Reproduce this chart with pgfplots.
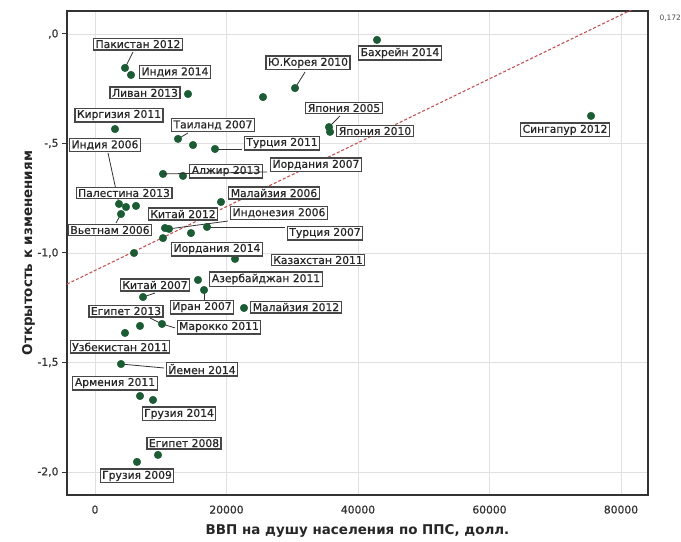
\documentclass[border=0pt]{standalone}
\usepackage{fontspec}
\setmainfont{DejaVu Sans}
\newfontfamily\lblfont[FakeBold=0.6]{DejaVu Sans}
\usepackage{pgfplots}
\pgfplotsset{compat=1.18}
\definecolor{dotgreen}{RGB}{28,92,52}
\definecolor{fitred}{RGB}{196,82,82}
\definecolor{gridgray}{RGB}{224,224,224}
\tikzset{lbl/.style={draw=black!72, fill=white, line width=1.2bp, inner xsep=2bp, inner ysep=1.8bp,
  font=\lblfont\fontsize{10.8}{12}\selectfont, text=black!85},
  ldr/.style={black!80, line width=0.8bp}}
\begin{document}
\begin{tikzpicture}
\path[use as bounding box] (-67bp,-47bp) rectangle (614bp,495bp);
\begin{axis}[
  scale only axis, width=581bp, height=484bp,
  xmin=-4260, xmax=84110, ymin=-2.105, ymax=0.105,
  xtick={0,20000,40000,60000,80000}, xticklabels={0,20000,40000,60000,80000},
  ytick={-2,-1.5,-1,-0.5,0}, yticklabels={{-2,0},{-1,5},{-1,0},{-,5},{,0}},
  scaled ticks=false,
  grid=major, grid style={gridgray, line width=0.8bp},
  axis line style={black!80, line width=1.1bp},
  ytick pos=left, xtick pos=bottom,
  xtick style={draw=none}, ytick style={black!80, line width=1bp},
  tick align=outside, major tick length=5bp,
  tick label style={font=\lblfont\fontsize{10.8}{12}\selectfont, text=black!80},
  xticklabel style={yshift=-2bp},
  xlabel={ВВП на душу населения по ППС, долл.},
  ylabel={Открытость к изменениям},
  every axis x label/.style={at={(axis description cs:0.5,-0.075)}, anchor=center,
     font=\bfseries\fontsize{13.5}{15}\selectfont, text=black!85},
  every axis y label/.style={at={(axis description cs:-0.066,0.5)}, anchor=center, rotate=90,
     font=\bfseries\fontsize{13.5}{15}\selectfont, text=black!85},
  clip mode=individual,
]
% fit line
\addplot[fitred, line width=1.1bp, dash pattern=on 3bp off 2bp] coordinates {(-4260,-1.142) (84110,0.147)};
% leader lines
\draw[ldr] (axis cs:4563,-0.155) -- (axis cs:5780,-0.082);
\draw[ldr] (axis cs:30420,-0.247) -- (axis cs:31941,-0.174);
\draw[ldr] (axis cs:35591,-0.425) -- (axis cs:37265,-0.374);
\draw[ldr] (axis cs:12624,-0.479) -- (axis cs:14145,-0.452);
\draw[ldr] (axis cs:18252,-0.525) -- (axis cs:22359,-0.525);
\draw[ldr] (axis cs:1977,-0.543) -- (axis cs:3650,-0.776);
\draw[ldr] (axis cs:3955,-0.822) -- (axis cs:3194,-0.863);
\draw[ldr] (axis cs:11255,-0.890) -- (axis cs:20229,-0.854);
\draw[ldr] (axis cs:17035,-0.881) -- (axis cs:28899,-0.881);
\draw[ldr] (axis cs:7301,-1.201) -- (axis cs:9126,-1.183);
\draw[ldr] (axis cs:16579,-1.169) -- (axis cs:16579,-1.215);
\draw[ldr] (axis cs:8366,-1.297) -- (axis cs:10191,-1.324);
\draw[ldr] (axis cs:10191,-1.324) -- (axis cs:12168,-1.342);
\draw[ldr] (axis cs:3955,-1.507) -- (axis cs:10495,-1.525);
% points
\addplot[only marks, mark=*, mark size=3.8bp, dotgreen, mark options={draw=dotgreen, fill=dotgreen}] coordinates {
(42892,-0.027) (4563,-0.155) (5476,-0.187) (14145,-0.274) (25553,-0.288)
(30420,-0.247) (35591,-0.425) (35744,-0.447) (75443,-0.374) (3042,-0.434)
(12624,-0.479) (14906,-0.507) (18252,-0.525) (10343,-0.639) (13385,-0.648)
(19165,-0.767) (3650,-0.776) (4715,-0.790) (6236,-0.785) (3955,-0.822)
(10647,-0.886) (11255,-0.890) (14602,-0.909) (17035,-0.881) (10343,-0.932)
(5932,-1.000) (21294,-1.027) (15666,-1.123) (16579,-1.169) (7301,-1.201)
(22663,-1.251) (6845,-1.333) (10191,-1.324) (4563,-1.365) (3955,-1.507)
(6845,-1.653) (8822,-1.671) (9582,-1.922) (6388,-1.954)
};
% labels
\node[lbl] at (axis cs:6540,-0.046) {Пакистан 2012};
\node[lbl] at (axis cs:12168,-0.174) {Индия 2014};
\node[lbl] at (axis cs:7605,-0.269) {Ливан 2013};
\node[lbl] at (axis cs:32397,-0.132) {Ю.Корея 2010};
\node[lbl] at (axis cs:3650,-0.370) {Киргизия 2011};
\node[lbl] at (axis cs:37873,-0.338) {Япония 2005};
\node[lbl] at (axis cs:42588,-0.443) {Япония 2010};
\node[lbl] at (axis cs:46390,-0.087) {Бахрейн 2014};
\node[lbl] at (axis cs:71487,-0.438) {Сингапур 2012};
\node[lbl] at (axis cs:17948,-0.416) {Таиланд 2007};
\node[lbl] at (axis cs:28443,-0.498) {Турция 2011};
\node[lbl] at (axis cs:1521,-0.507) {Индия 2006};
\node[lbl] at (axis cs:33614,-0.598) {Иордания 2007};
\node[lbl] at (axis cs:19925,-0.626) {Алжир 2013};
\node[lbl] at (axis cs:4411,-0.726) {Палестина 2013};
\node[lbl] at (axis cs:27226,-0.726) {Малайзия 2006};
\node[lbl] at (axis cs:13385,-0.822) {Китай 2012};
\node[lbl] at (axis cs:27986,-0.817) {Индонезия 2006};
\node[lbl] at (axis cs:2282,-0.895) {Вьетнам 2006};
\node[lbl] at (axis cs:34983,-0.909) {Турция 2007};
\node[lbl] at (axis cs:18556,-0.982) {Иордания 2014};
\node[lbl] at (axis cs:33918,-1.032) {Казахстан 2011};
\node[lbl] at (axis cs:26009,-1.119) {Азербайджан 2011};
\node[lbl] at (axis cs:9126,-1.146) {Китай 2007};
\node[lbl] at (axis cs:16275,-1.247) {Иран 2007};
\node[lbl] at (axis cs:30572,-1.247) {Малайзия 2012};
\node[lbl] at (axis cs:4715,-1.265) {Египет 2013};
\node[lbl] at (axis cs:18860,-1.338) {Марокко 2011};
\node[lbl] at (axis cs:3803,-1.429) {Узбекистан 2011};
\node[lbl] at (axis cs:16275,-1.530) {Йемен 2014};
\node[lbl] at (axis cs:3042,-1.594) {Армения 2011};
\node[lbl] at (axis cs:12776,-1.735) {Грузия 2014};
\node[lbl] at (axis cs:13537,-1.868) {Египет 2008};
\node[lbl] at (axis cs:6388,-2.018) {Грузия 2009};
% line over Алжир box
\draw[ldr] (axis cs:10343,-0.639) -- (axis cs:26161,-0.630);
% R2 annotation
\node[anchor=west, font=\fontsize{7.5}{9}\selectfont, text=black!70] at (axis cs:84110,0.073) {\hspace{8bp}0,172};
\end{axis}
\end{tikzpicture}
\end{document}
